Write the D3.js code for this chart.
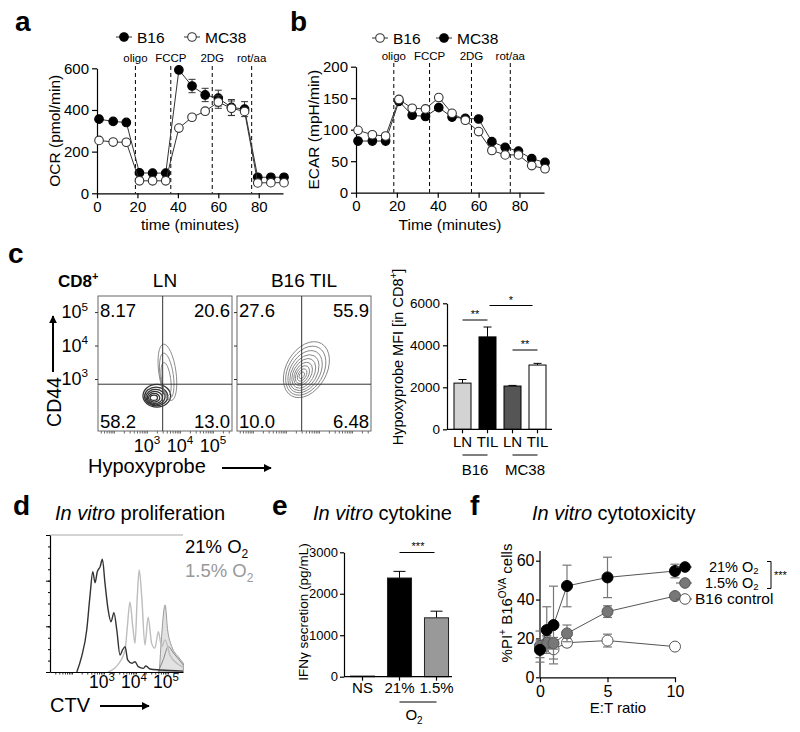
<!DOCTYPE html>
<html><head><meta charset="utf-8">
<script src="https://cdn.jsdelivr.net/npm/d3@7"></script>
<style>body{margin:0;background:#fff}svg{display:block}</style>
</head><body>
<svg id="c" width="800" height="732"></svg>
<script>
// ---------------- DATA ----------------
const seahorseTime = [1, 8, 14.5, 21, 27.5, 34, 40.5, 47, 53.5, 60, 66.5, 73, 79.5, 86, 92.5];
const injections = ["oligo", "FCCP", "2DG", "rot/aa"];
const injectionTimeA = [19, 36.5, 57, 76.5];
const injectionTimeB = [18.5, 36, 56.5, 75.5];
const ocrB16 = [356, 345, 340, 98, 97, 97, 592, 515, 472, 457, 412, 404, 77, 77, 77];
const ocrB16Err = [6, 6, 6, 4, 4, 4, 10, 32, 32, 38, 38, 36, 4, 4, 4];
const ocrMC38 = [254, 246, 245, 60, 60, 60, 313, 365, 394, 438, 408, 393, 50, 51, 51];
const ocrMC38Err = [5, 5, 5, 3, 3, 3, 6, 8, 8, 30, 35, 10, 3, 3, 3];
const ocrTicks = [0, 200, 400, 600];
const ecarB16 = [99, 92, 90, 148, 134, 133, 151, 126, 115, 97, 67, 60, 60, 43, 38];
const ecarB16Err = [4, 3, 3, 4, 3, 3, 5, 4, 3, 4, 3, 3, 3, 3, 3];
const ecarMC38 = [82, 82, 82, 145, 123, 121, 135, 120, 118, 117, 81, 72, 66, 54, 48];
const ecarMC38Err = [3, 3, 3, 4, 3, 3, 4, 3, 3, 3, 3, 3, 3, 3, 3];
const ecarTicks = [0, 50, 100, 150, 200];
const timeTicks = [0, 20, 40, 60, 80];

// flow cytometry panel c
const flowSamples = ["LN", "B16 TIL"];
const quadrantLN = ["8.17", "20.6", "58.2", "13.0"];
const quadrantTIL = ["27.6", "55.9", "10.0", "6.48"];
const gateHypoxyprobe = 3000;
const gateCD44 = 700;
const flowDecades = [3, 4, 5];
// contour rings: [log10 x, log10 y, log radius x, log radius y, tilt deg]
const contoursLN = [
  [3.30, 2.50, 0.42, 0.34, 0], [3.28, 2.48, 0.35, 0.28, 0], [3.26, 2.46, 0.29, 0.23, 0],
  [3.24, 2.45, 0.23, 0.18, 0], [3.22, 2.44, 0.17, 0.13, 0], [3.21, 2.44, 0.11, 0.08, 0],
  [3.62, 3.20, 0.26, 0.85, -8], [3.60, 3.10, 0.20, 0.68, -8], [3.58, 3.00, 0.14, 0.50, -8]
];
const contoursTIL = [
  [3.62, 3.28, 0.61, 0.90, 30], [3.60, 3.25, 0.53, 0.79, 30], [3.58, 3.22, 0.45, 0.68, 30],
  [3.56, 3.19, 0.38, 0.58, 30], [3.54, 3.17, 0.31, 0.48, 30], [3.52, 3.15, 0.24, 0.38, 30],
  [3.50, 3.13, 0.18, 0.29, 30], [3.49, 3.12, 0.12, 0.20, 30], [3.48, 3.11, 0.07, 0.11, 30]
];
// hypoxyprobe bars
const hypoxTissue = ["LN", "TIL", "LN", "TIL"];
const hypoxTumor = ["B16", "MC38"];
const hypoxMFI = [2200, 4400, 2060, 3060];
const hypoxErr = [170, 470, 30, 80];
const hypoxTicks = [0, 2000, 4000, 6000];

// panel d CTV histograms: [log10 CTV, count]
const ctv21 = [[2.15,0],[2.30,134],[2.46,368],[2.56,660],[2.65,878],[2.72,782],[2.79,878],[2.88,923],[2.95,988],[3.03,780],[3.13,544],[3.22,440],[3.31,520],[3.40,368],[3.50,149],[3.58,193],[3.66,222],[3.74,106],[3.87,77],[3.97,90],[4.07,47],[4.23,32],[4.31,53],[4.44,26],[4.75,18],[5.47,8]];
const ctv15 = [[3.13,0],[3.34,35],[3.50,90],[3.66,193],[3.73,397],[3.81,613],[3.90,397],[3.97,251],[4.04,660],[4.10,894],[4.18,660],[4.28,236],[4.38,479],[4.49,251],[4.59,208],[4.70,353],[4.80,222],[4.91,281],[5.06,149],[5.31,70],[5.47,43]];
const ctvUndivided = [[4.73,0],[4.80,310],[4.91,587],[4.99,368],[5.12,222],[5.32,134],[5.48,77]];
const ctvUndividedB = [[4.69,0],[4.85,106],[5.01,222],[5.17,167],[5.48,61]];
const ctvCountTicks = [0, 400, 800, 1200];

// panel e
const cytoCats = ["NS", "21%", "1.5%"];
const ifng = [15, 2380, 1420];
const ifngErr = [0, 160, 160];
const ifngTicks = [0, 1000, 2000, 3000];

// panel f
const etRatio = [0, 0.5, 1, 2, 5, 10];
const kill21 = [14.1, 24.3, 26.9, 47.0, 51.4, 54.7];
const kill21Err = [4, 12, 20, 10.7, 10.4, 3.5];
const kill15 = [16.1, 17.8, 17.5, 22.6, 33.8, 41.8];
const kill15Err = [3, 3, 3, 4.3, 3, 1];
const killCtrl = [15.8, 17.5, 14.4, 17.8, 18.9, 15.8];
const killCtrlErr = [8, 4, 5, 2, 3.3, 1];
const killYTicks = [0, 20, 40, 60];
const killXTicks = [0, 5, 10];

// ---------------- DRAWING ----------------
const FONT = '"Liberation Sans", Arial, Helvetica, sans-serif';
const fmt = d3.format("d");
const svg = d3.select("#c").attr("font-family", FONT);
svg.append("defs").append("marker").attr("id", "arr").attr("viewBox", "0 0 10 10")
  .attr("refX", 9).attr("refY", 5).attr("markerWidth", 4).attr("markerHeight", 4)
  .attr("orient", "auto").append("path").attr("d", "M0,0L10,5L0,10z").attr("fill", "#000");

function styleAxis(g, fs) {
  g.selectAll("text").attr("font-size", fs).attr("font-family", FONT).attr("fill", "#000");
  g.select(".domain").attr("stroke", "#000").attr("stroke-width", 1.2);
  g.selectAll(".tick line").attr("stroke", "#000").attr("stroke-width", 1.2);
}
function label(x, y, txt, fs, opt = {}) {
  const t = svg.append("text").attr("x", x).attr("y", y).attr("font-size", fs).text(txt)
    .attr("text-anchor", opt.anchor || "start").attr("fill", opt.fill || "#000");
  if (opt.bold) t.attr("font-weight", "bold");
  if (opt.rot) t.attr("transform", `rotate(-90,${x},${y})`);
  return t;
}
function panelLetter(x, y, l) { label(x, y, l, 28, { bold: true }); }
function italicTitle(x, y, rest) {
  const t = svg.append("text").attr("x", x).attr("y", y).attr("font-size", 20);
  t.append("tspan").attr("font-style", "italic").text("In vitro");
  t.append("tspan").text(" " + rest);
}
function supText(sel, base, s, fs) {
  sel.append("tspan").text(base);
  sel.append("tspan").attr("dy", -fs * 0.42).attr("font-size", fs * 0.65).text(s);
}

// ---------- Seahorse panels ----------
function seahorse(cfg) {
  const x = d3.scaleLinear().domain([0, 92]).range(cfg.xr);
  const y = d3.scaleLinear().domain([0, cfg.ymax]).range(cfg.yr);
  const g = svg.append("g");
  g.append("g").attr("transform", `translate(${cfg.xr[0]},0)`)
    .call(d3.axisLeft(y).tickValues(cfg.yticks).tickFormat(fmt).tickSize(5).tickPadding(3).tickSizeOuter(0))
    .call(a => styleAxis(a, 15));
  g.append("g").attr("transform", `translate(0,${cfg.yr[0]})`)
    .call(d3.axisBottom(x).tickValues(timeTicks).tickFormat(fmt).tickSize(5).tickPadding(3).tickSizeOuter(0))
    .call(a => styleAxis(a, 15));
  cfg.inj.forEach((t, i) => {
    g.append("line").attr("x1", x(t)).attr("x2", x(t)).attr("y1", cfg.dashTop).attr("y2", cfg.yr[0])
      .attr("stroke", "#000").attr("stroke-width", 1).attr("stroke-dasharray", "4,3");
    g.append("text").attr("x", x(t)).attr("y", cfg.injY).attr("text-anchor", "middle")
      .attr("font-size", 11.5).text(injections[i]);
  });
  cfg.series.forEach(s => {
    const pts = seahorseTime.map((t, i) => [t, s.v[i], s.e[i]]);
    g.append("path").datum(pts).attr("fill", "none").attr("stroke", "#333").attr("stroke-width", 1)
      .attr("d", d3.line().x(d => x(d[0])).y(d => y(d[1])));
    pts.forEach(d => {
      const cx = x(d[0]);
      g.append("line").attr("x1", cx).attr("x2", cx).attr("y1", y(d[1] - d[2])).attr("y2", y(d[1] + d[2])).attr("stroke", "#333");
      [d[1] - d[2], d[1] + d[2]].forEach(v => g.append("line").attr("x1", cx - 3.5).attr("x2", cx + 3.5)
        .attr("y1", y(v)).attr("y2", y(v)).attr("stroke", "#333"));
    });
    g.selectAll(null).data(pts).join("circle").attr("cx", d => x(d[0])).attr("cy", d => y(d[1])).attr("r", 4.3)
      .attr("fill", s.filled ? "#000" : "#fff").attr("stroke", s.filled ? "#000" : "#333").attr("stroke-width", 1.1);
  });
  cfg.legend.forEach(l => {
    g.append("line").attr("x1", l.x - 8).attr("x2", l.x + 8).attr("y1", l.y).attr("y2", l.y).attr("stroke", "#333");
    g.append("circle").attr("cx", l.x).attr("cy", l.y).attr("r", 4.3).attr("fill", l.filled ? "#000" : "#fff")
      .attr("stroke", l.filled ? "#000" : "#333").attr("stroke-width", 1.1);
    g.append("text").attr("x", l.x + 13).attr("y", l.y + 5.5).attr("font-size", 15.5).text(l.name);
  });
  label(cfg.ylabX, (cfg.yr[0] + cfg.yr[1]) / 2, cfg.ylab, 15.5, { rot: true, anchor: "middle" });
  label((cfg.xr[0] + cfg.xr[1]) / 2, 230, cfg.xlab, 15.5, { anchor: "middle" });
}
panelLetter(15, 31, "a");
seahorse({ xr: [97, 283], yr: [193.3, 68.3], ymax: 600, yticks: ocrTicks, inj: injectionTimeA, dashTop: 66, injY: 62,
  series: [{ v: ocrB16, e: ocrB16Err, filled: true }, { v: ocrMC38, e: ocrMC38Err, filled: false }],
  legend: [{ x: 124, y: 37, filled: true, name: "B16" }, { x: 192, y: 37, filled: false, name: "MC38" }],
  ylab: "OCR (pmol/min)", ylabX: 60, xlab: "time (minutes)" });
panelLetter(290, 31, "b");
seahorse({ xr: [356, 544], yr: [192.7, 66.7], ymax: 200, yticks: ecarTicks, inj: injectionTimeB, dashTop: 63, injY: 60,
  series: [{ v: ecarMC38, e: ecarMC38Err, filled: true }, { v: ecarB16, e: ecarB16Err, filled: false }],
  legend: [{ x: 380, y: 38, filled: false, name: "B16" }, { x: 444, y: 38, filled: true, name: "MC38" }],
  ylab: "ECAR (mpH/min)", ylabX: 319, xlab: "Time (minutes)" });

// ---------- Panel c flow ----------
panelLetter(8, 263, "c");
const cd8 = svg.append("text").attr("x", 58).attr("y", 287).attr("font-size", 17).attr("font-weight", "bold");
supText(cd8, "CD8", "+", 17);
const yF = d3.scaleLog().domain([28, 302000]).range([431, 296]);
[{ x0: 98, x1: 232, q: quadrantLN, c: contoursLN, name: flowSamples[0], dark: true },
 { x0: 237, x1: 371, q: quadrantTIL, c: contoursTIL, name: flowSamples[1], dark: false }].forEach((p, pi) => {
  const xF = d3.scaleLog().domain([33, 377000]).range([p.x0, p.x1]);
  const g = svg.append("g");
  label((p.x0 + p.x1) / 2, 287, p.name, 19, { anchor: "middle" });
  p.c.forEach((r, i) => {
    const cx = xF(10 ** r[0]), cy = yF(10 ** r[1]);
    const rx = xF(10 ** (r[0] + r[2])) - cx, ry = cy - yF(10 ** (r[1] + r[3]));
    g.append("ellipse").attr("cx", cx).attr("cy", cy).attr("rx", rx).attr("ry", ry)
      .attr("transform", `rotate(${r[4]},${cx},${cy})`).attr("fill", "none")
      .attr("stroke", p.dark && i < 6 ? "#333" : "#777").attr("stroke-width", p.dark && i < 6 ? 1.3 : 0.8);
  });
  g.append("rect").attr("x", p.x0).attr("y", 296).attr("width", p.x1 - p.x0).attr("height", 135)
    .attr("fill", "none").attr("stroke", "#666").attr("stroke-width", 1);
  g.append("line").attr("x1", xF(gateHypoxyprobe)).attr("x2", xF(gateHypoxyprobe)).attr("y1", 296).attr("y2", 431).attr("stroke", "#333");
  g.append("line").attr("x1", p.x0).attr("x2", p.x1).attr("y1", yF(gateCD44)).attr("y2", yF(gateCD44)).attr("stroke", "#333");
  g.append("g").attr("transform", "translate(0,431)")
    .call(d3.axisBottom(xF).tickValues(xF.ticks().filter(v => v >= 40)).tickSize(2.5).tickFormat("").tickSizeOuter(0))
    .call(a => { a.select(".domain").remove(); a.selectAll("line").attr("stroke", "#666"); });
  g.append("g").attr("transform", `translate(${p.x0},0)`)
    .call(d3.axisLeft(yF).tickValues(flowDecades.map(d => 10 ** d)).tickSize(3).tickFormat("").tickSizeOuter(0))
    .call(a => { a.select(".domain").remove(); a.selectAll("line").attr("stroke", "#333"); });
  const fs = 18.5;
  label(p.x0 + 2, 317, p.q[0], fs);
  label(p.x1 - 2, 317, p.q[1], fs, { anchor: "end" });
  label(p.x0 + 2, 428, p.q[2], fs);
  label(p.x1 - 2, 428, p.q[3], fs, { anchor: "end" });
  if (pi === 0) {
    flowDecades.forEach(d => {
      const t = svg.append("text").attr("x", 88).attr("y", yF(10 ** d) + 6).attr("text-anchor", "end").attr("font-size", 18);
      supText(t, "10", String(d), 18);
      const tx = svg.append("text").attr("x", xF(10 ** d)).attr("y", 452).attr("text-anchor", "middle").attr("font-size", 18);
      supText(tx, "10", String(d), 18);
    });
  }
});
label(61, 402, "CD44", 19.5, { rot: true, anchor: "middle" });
svg.append("line").attr("x1", 53).attr("x2", 53).attr("y1", 372).attr("y2", 316).attr("stroke", "#000").attr("stroke-width", 2).attr("marker-end", "url(#arr)");
label(88, 473, "Hypoxyprobe", 20);
svg.append("line").attr("x1", 222).attr("x2", 271).attr("y1", 468).attr("y2", 468).attr("stroke", "#000").attr("stroke-width", 2).attr("marker-end", "url(#arr)");

// ---------- Panel c bars ----------
{
  const x = d3.scaleBand().domain(d3.range(hypoxMFI.length)).range([450, 550]).paddingInner(0.32).paddingOuter(0.16);
  const y = d3.scaleLinear().domain([0, 6000]).range([429.3, 303.3]);
  const g = svg.append("g");
  const fills = ["#d3d3d3", "#000", "#555", "#fff"];
  hypoxMFI.forEach((v, i) => {
    const cx = x(i) + x.bandwidth() / 2;
    g.append("line").attr("x1", cx).attr("x2", cx).attr("y1", y(v)).attr("y2", y(v + hypoxErr[i])).attr("stroke", "#000");
    g.append("line").attr("x1", cx - 4).attr("x2", cx + 4).attr("y1", y(v + hypoxErr[i])).attr("y2", y(v + hypoxErr[i])).attr("stroke", "#000");
    g.append("rect").attr("x", x(i)).attr("y", y(v)).attr("width", x.bandwidth()).attr("height", y(0) - y(v))
      .attr("fill", fills[i]).attr("stroke", "#000").attr("stroke-width", 1);
  });
  g.append("g").attr("transform", "translate(447,0)")
    .call(d3.axisLeft(y).tickValues(hypoxTicks).tickFormat(fmt).tickSize(4).tickPadding(3).tickSizeOuter(0))
    .call(a => styleAxis(a, 13.5));
  g.append("g").attr("transform", "translate(0,429.3)")
    .call(d3.axisBottom(x).tickFormat(i => hypoxTissue[i]).tickSize(4).tickPadding(3).tickSizeOuter(0))
    .call(a => { styleAxis(a, 15); a.select(".domain").remove(); });
  g.append("line").attr("x1", 447).attr("x2", 552).attr("y1", 429.3).attr("y2", 429.3).attr("stroke", "#000").attr("stroke-width", 1.2);
  hypoxTumor.forEach((t, k) => {
    const a = x(2 * k) + x.bandwidth() / 2, b = x(2 * k + 1) + x.bandwidth() / 2;
    g.append("line").attr("x1", a).attr("x2", b).attr("y1", 455).attr("y2", 455).attr("stroke", "#000");
    g.append("text").attr("x", (a + b) / 2).attr("y", 475).attr("text-anchor", "middle").attr("font-size", 15).text(t);
  });
  const c = i => x(i) + x.bandwidth() / 2;
  [[c(0), c(1), 320, "**"], [c(1) + 2, c(3) - 5, 305.5, "*"], [c(2), c(3), 350, "**"]].forEach(s => {
    g.append("line").attr("x1", s[0]).attr("x2", s[1]).attr("y1", s[2]).attr("y2", s[2]).attr("stroke", "#000");
    g.append("text").attr("x", (s[0] + s[1]) / 2).attr("y", s[2] - 2).attr("text-anchor", "middle").attr("font-size", 11).text(s[3]);
  });
  const yl = svg.append("text").attr("font-size", 14.5).attr("text-anchor", "middle")
    .attr("transform", "translate(403,357) rotate(-90)");
  yl.append("tspan").text("Hypoxyprobe MFI [in CD8");
  yl.append("tspan").attr("dy", -6).attr("font-size", 10).text("+");
  yl.append("tspan").attr("dy", 6).text("]");
}

// ---------- Panel d ----------
panelLetter(13, 515, "d");
italicTitle(55, 520, "proliferation");
{
  const x = d3.scaleLog().domain([20.5, 295000]).range([50, 183]);
  const y = d3.scaleLinear().domain([0, 1200]).range([672, 535]);
  const g = svg.append("g");
  const line = d3.line().x(d => x(10 ** d[0])).y(d => y(d[1])).curve(d3.curveMonotoneX);
  const area = d3.area().x(d => x(10 ** d[0])).y0(y(0)).y1(d => y(d[1])).curve(d3.curveMonotoneX);
  g.append("path").datum(ctvUndivided).attr("d", area).attr("fill", "#e2e2e2").attr("stroke", "#999").attr("stroke-width", 1);
  g.append("path").datum(ctvUndividedB).attr("d", line).attr("fill", "none").attr("stroke", "#888").attr("stroke-width", 1);
  g.append("path").datum(ctv15).attr("d", line).attr("fill", "none").attr("stroke", "#bdbdbd").attr("stroke-width", 1.4);
  g.append("path").datum(ctv21).attr("d", line).attr("fill", "none").attr("stroke", "#333").attr("stroke-width", 1.4);
  g.append("line").attr("x1", 50).attr("x2", 183).attr("y1", 535).attr("y2", 535).attr("stroke", "#aaa").attr("stroke-width", 1.2);
  g.append("g").attr("transform", "translate(50,0)")
    .call(d3.axisLeft(y).tickValues(d3.range(0, 1201, 100)).tickSize(2).tickFormat("").tickSizeOuter(0))
    .call(a => { styleAxis(a, 10); a.selectAll(".tick line").attr("stroke-width", 1); });
  g.append("g").attr("transform", "translate(50,0)")
    .call(d3.axisLeft(y).tickValues(ctvCountTicks).tickSize(4).tickFormat("").tickSizeOuter(0))
    .call(a => { a.select(".domain").remove(); a.selectAll("line").attr("stroke", "#000"); });
  g.append("g").attr("transform", "translate(0,672)")
    .call(d3.axisBottom(x).tickValues(x.ticks().filter(v => v >= 30)).tickSize(2.5).tickFormat("").tickSizeOuter(0))
    .call(a => { styleAxis(a, 10); a.selectAll(".tick line").attr("stroke-width", 0.8); });
  flowDecades.forEach(d => {
    const t = svg.append("text").attr("x", x(10 ** d) - 2).attr("y", 688).attr("text-anchor", "middle").attr("font-size", 17.5);
    supText(t, "10", String(d), 17.5);
  });
  label(50, 712, "CTV", 20);
  svg.append("line").attr("x1", 100).attr("x2", 149).attr("y1", 706).attr("y2", 706).attr("stroke", "#000").attr("stroke-width", 2).attr("marker-end", "url(#arr)");
  [["21% O", "#000", 553], ["1.5% O", "#999", 577]].forEach(l => {
    const t = svg.append("text").attr("x", 185).attr("y", l[2]).attr("font-size", 18.5).attr("fill", l[1]);
    t.append("tspan").text(l[0]);
    t.append("tspan").attr("dy", 5).attr("font-size", 12).text("2");
  });
}

// ---------- Panel e ----------
panelLetter(272, 515, "e");
italicTitle(313, 520, "cytokine");
{
  const x = d3.scaleBand().domain(cytoCats).range([344, 455]).paddingInner(0.35).paddingOuter(0.175);
  const y = d3.scaleLinear().domain([0, 3000]).range([676.7, 552.3]);
  const g = svg.append("g");
  const fills = ["#000", "#000", "#999"];
  cytoCats.forEach((c, i) => {
    const cx = x(c) + x.bandwidth() / 2;
    if (ifngErr[i] > 0) {
      g.append("line").attr("x1", cx).attr("x2", cx).attr("y1", y(ifng[i])).attr("y2", y(ifng[i] + ifngErr[i])).attr("stroke", "#000");
      g.append("line").attr("x1", cx - 6).attr("x2", cx + 6).attr("y1", y(ifng[i] + ifngErr[i])).attr("y2", y(ifng[i] + ifngErr[i])).attr("stroke", "#000");
    }
    g.append("rect").attr("x", x(c)).attr("y", y(ifng[i])).attr("width", x.bandwidth()).attr("height", y(0) - y(ifng[i]))
      .attr("fill", fills[i]).attr("stroke", "#222").attr("stroke-width", 1);
  });
  g.append("g").attr("transform", "translate(344,0)")
    .call(d3.axisLeft(y).tickValues(ifngTicks).tickFormat(fmt).tickSize(4).tickPadding(2).tickSizeOuter(0))
    .call(a => styleAxis(a, 13));
  g.append("g").attr("transform", "translate(0,676.7)")
    .call(d3.axisBottom(x).tickSize(4).tickPadding(1.5).tickSizeOuter(0))
    .call(a => { styleAxis(a, 15); a.select(".domain").remove(); });
  g.append("line").attr("x1", 344).attr("x2", 452).attr("y1", 676.7).attr("y2", 676.7).attr("stroke", "#000").attr("stroke-width", 1.2);
  const a1 = x("21%") + x.bandwidth() / 2, a2 = x("1.5%") + x.bandwidth() / 2;
  g.append("line").attr("x1", a1).attr("x2", a2).attr("y1", 702).attr("y2", 702).attr("stroke", "#000");
  const o2 = g.append("text").attr("x", (a1 + a2) / 2 - 4).attr("y", 720).attr("text-anchor", "middle").attr("font-size", 15);
  o2.append("tspan").text("O"); o2.append("tspan").attr("dy", 4).attr("font-size", 10).text("2");
  g.append("line").attr("x1", a1).attr("x2", a2 - 2).attr("y1", 552.5).attr("y2", 552.5).attr("stroke", "#000");
  g.append("text").attr("x", (a1 + a2) / 2).attr("y", 550).attr("text-anchor", "middle").attr("font-size", 11).text("***");
  label(308, 612, "IFN\u03b3 secretion  (pg/mL)", 13.5, { rot: true, anchor: "middle" });
}

// ---------- Panel f ----------
panelLetter(470, 515, "f");
italicTitle(532, 520, "cytotoxicity");
{
  const x = d3.scaleLinear().domain([0, 10]).range([540, 675]);
  const y = d3.scaleLinear().domain([0, 60]).range([677.3, 560.7]);
  const g = svg.append("g");
  g.append("line").attr("x1", 540).attr("x2", 540).attr("y1", y(65)).attr("y2", y(0)).attr("stroke", "#000").attr("stroke-width", 1.2);
  g.append("g").attr("transform", "translate(540,0)")
    .call(d3.axisLeft(y).tickValues(killYTicks).tickFormat(fmt).tickSize(4).tickPadding(1.5).tickSizeOuter(0))
    .call(a => { styleAxis(a, 16); a.select(".domain").remove(); });
  g.append("g").attr("transform", "translate(0,677.3)")
    .call(d3.axisBottom(x).tickValues(killXTicks).tickFormat(fmt).tickSize(5).tickPadding(3).tickSizeOuter(0))
    .call(a => styleAxis(a, 16));
  const series = [
    { v: killCtrl, e: killCtrlErr, fill: "#fff", name: "B16 control", o2: false },
    { v: kill15, e: kill15Err, fill: "#777", name: "1.5%", o2: true },
    { v: kill21, e: kill21Err, fill: "#000", name: "21%", o2: true }
  ];
  series.forEach(s => {
    const pts = etRatio.map((r, i) => [r, s.v[i], s.e[i]]);
    g.append("path").datum(pts).attr("fill", "none").attr("stroke", "#555").attr("stroke-width", 1)
      .attr("d", d3.line().x(d => x(d[0])).y(d => y(d[1])));
    pts.forEach(d => {
      const cx = x(d[0]);
      g.append("line").attr("x1", cx).attr("x2", cx).attr("y1", y(d[1] - d[2])).attr("y2", y(d[1] + d[2])).attr("stroke", "#777").attr("stroke-width", 1.2);
      [d[1] - d[2], d[1] + d[2]].forEach(v => g.append("line").attr("x1", cx - 4.5).attr("x2", cx + 4.5)
        .attr("y1", y(v)).attr("y2", y(v)).attr("stroke", "#777").attr("stroke-width", 1.2));
    });
    g.selectAll(null).data(pts).join("circle").attr("cx", d => x(d[0])).attr("cy", d => y(d[1])).attr("r", 5.5)
      .attr("fill", s.fill).attr("stroke", s.fill === "#000" ? "#000" : "#555").attr("stroke-width", 1);
  });
  [[series[2], 567], [series[1], 583], [series[0], 599]].forEach(([s, ly]) => {
    g.append("line").attr("x1", 676).attr("x2", 692).attr("y1", ly).attr("y2", ly).attr("stroke", "#555");
    g.append("circle").attr("cx", 685).attr("cy", ly).attr("r", 5.3).attr("fill", s.fill).attr("stroke", s.fill === "#000" ? "#000" : "#555");
    if (s.o2) {
      g.append("text").attr("x", 738).attr("y", ly + 4.5).attr("text-anchor", "end").attr("font-size", 14.5).text(s.name);
      const t = g.append("text").attr("x", 742).attr("y", ly + 4.5).attr("font-size", 14.5);
      t.append("tspan").text("O");
      t.append("tspan").attr("dy", 2).attr("font-size", 9.5).text("2");
    } else {
      g.append("text").attr("x", 695).attr("y", ly + 5).attr("font-size", 15.5).text(s.name);
    }
  });
  g.append("path").attr("d", "M767,561.5H771V588.5H767").attr("fill", "none").attr("stroke", "#000");
  g.append("text").attr("x", 774).attr("y", 579).attr("font-size", 11).text("***");
  label(618, 713, "E:T ratio", 15, { anchor: "middle" });
  const yl = svg.append("text").attr("font-size", 15).attr("text-anchor", "middle")
    .attr("transform", "translate(512,603) rotate(-90)");
  yl.append("tspan").text("%PI");
  yl.append("tspan").attr("dy", -6).attr("font-size", 10).text("+");
  yl.append("tspan").attr("dy", 6).text(" B16");
  yl.append("tspan").attr("dy", -6).attr("font-size", 10).text("OVA");
  yl.append("tspan").attr("dy", 6).text(" cells");
}
</script>
</body></html>
